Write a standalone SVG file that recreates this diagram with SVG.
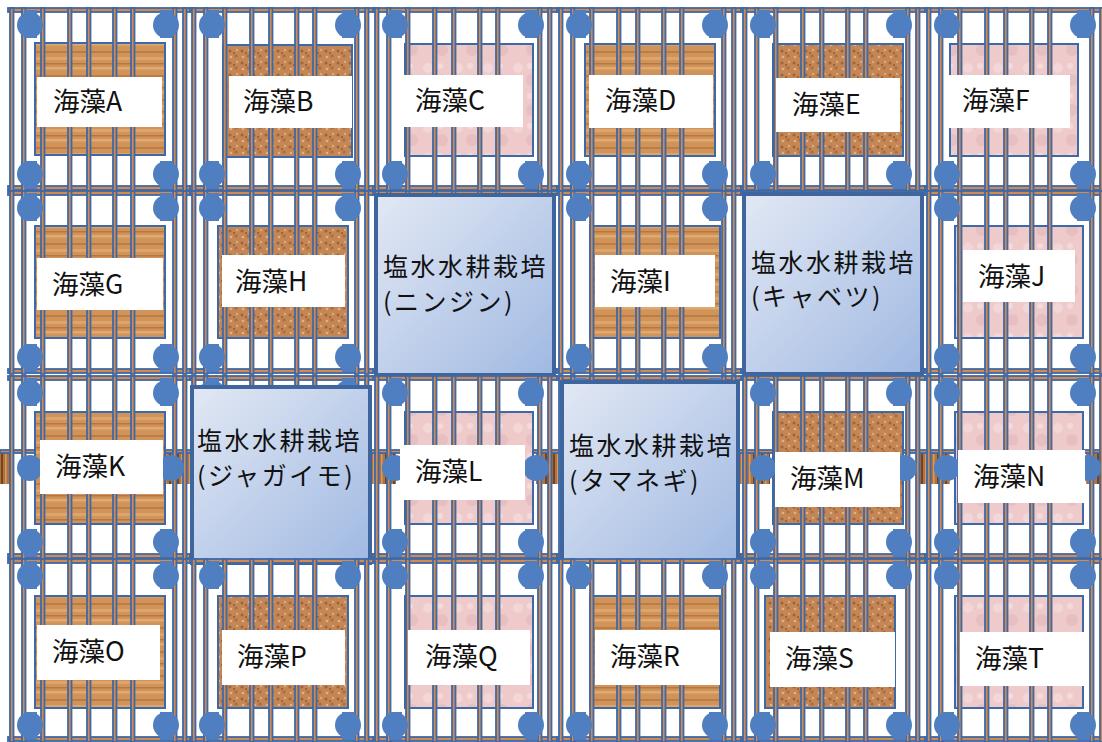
<svg xmlns="http://www.w3.org/2000/svg" xmlns:xlink="http://www.w3.org/1999/xlink" width="1102" height="742" viewBox="0 0 1102 742">
<style>
.bar{fill:#d48a4c;stroke:#3d69a9;stroke-width:1.8}
.post{fill:#4f7fc0}
.lbl{fill:#ffffff}
.t{font-family:"Noto Sans CJK JP","Noto Sans",sans-serif;font-size:26.5px;fill:#111}
.bt{font-family:"Noto Sans CJK JP","Noto Sans",sans-serif;font-size:25px;fill:#111;letter-spacing:2.5px}
.box{stroke:#3f659f;stroke-width:4;fill:url(#bg)}
.wood{fill:url(#woodP);stroke:#3d69a9;stroke-width:2}
.cork{fill:url(#corkP);stroke:#3d69a9;stroke-width:2}
.pink{fill:url(#pinkP);stroke:#3d69a9;stroke-width:2}
.conn{fill:url(#connP)}
</style>
<defs>
<linearGradient id="bg" x1="0" y1="0" x2="1" y2="1">
<stop offset="0" stop-color="#e2e8f4"/>
<stop offset="1" stop-color="#a0b9e2"/>
</linearGradient>
<pattern id="woodP" width="60" height="24" patternUnits="userSpaceOnUse">
<rect width="60" height="24" fill="#d0935a"/>
<rect y="3" width="60" height="2" fill="#bd7c42"/>
<rect y="9" width="60" height="3" fill="#dda56c"/>
<rect y="15" width="60" height="1.5" fill="#b8763e"/>
<rect y="19" width="60" height="2.5" fill="#dfaa72"/>
</pattern>
<pattern id="corkP" width="12" height="12" patternUnits="userSpaceOnUse">
<rect width="12" height="12" fill="#c38654"/>
<circle cx="2" cy="3" r="1.5" fill="#a0643a"/>
<circle cx="8" cy="8" r="1.6" fill="#a86c42"/>
<circle cx="9" cy="2" r="1.2" fill="#dcaa7c"/>
<circle cx="3" cy="9" r="1.3" fill="#e2b084"/>
<circle cx="6" cy="5" r="1" fill="#935830"/>
</pattern>
<pattern id="pinkP" width="30" height="30" patternUnits="userSpaceOnUse">
<rect width="30" height="30" fill="#eecacb"/>
<circle cx="8" cy="8" r="5" fill="#f3d6d7"/>
<circle cx="22" cy="20" r="6" fill="#e8bfc1"/>
<circle cx="20" cy="6" r="3" fill="#f4dadb"/>
</pattern>
<pattern id="connP" width="8" height="30" patternUnits="userSpaceOnUse">
<rect width="8" height="30" fill="#b0723e"/>
<rect x="1" width="2" height="30" fill="#74441e"/>
<rect x="5" width="1.5" height="30" fill="#d49a62"/>
</pattern>
<g id="cage">
<rect class="bar" x="0" y="0" width="184" height="4"/>
<rect class="bar" x="0" y="178" width="184" height="4"/>
<rect class="bar" x="2" y="0" width="3.5" height="183"/>
<rect class="bar" x="14" y="0" width="3.5" height="183"/>
<rect class="bar" x="33" y="0" width="3.5" height="183"/>
<rect class="bar" x="60" y="0" width="3.5" height="183"/>
<rect class="bar" x="79" y="0" width="3.5" height="183"/>
<rect class="bar" x="105" y="0" width="3.5" height="183"/>
<rect class="bar" x="123" y="0" width="3.5" height="183"/>
<rect class="bar" x="165" y="0" width="3.5" height="183"/>
<rect class="bar" x="175" y="0" width="3.5" height="183"/>
<rect class="post" x="16" y="2" width="13" height="28"/>
<rect class="post" x="152" y="2" width="13" height="28"/>
<rect class="post" x="16" y="153" width="13" height="28"/>
<rect class="post" x="152" y="153" width="13" height="28"/>
<circle class="post" cx="22" cy="17" r="13"/>
<circle class="post" cx="158" cy="17" r="13"/>
<circle class="post" cx="22" cy="166" r="13"/>
<circle class="post" cx="158" cy="166" r="13"/>
</g>
<g id="mid">
<circle class="post" cx="22" cy="92" r="13"/>
<circle class="post" cx="163" cy="92" r="13"/>
</g>
</defs>
<rect width="1102" height="742" fill="#ffffff"/>

<g id="connectors">
<rect class="conn" x="0" y="452" width="10" height="32"/>
<rect class="conn" x="166" y="452" width="28" height="32"/>
<rect class="conn" x="366" y="452" width="30" height="32"/>
<rect class="conn" x="536" y="452" width="26" height="32"/>
<rect class="conn" x="738" y="452" width="32" height="32"/>
<rect class="conn" x="918" y="452" width="32" height="32"/>
<rect class="conn" x="1086" y="452" width="16" height="32"/>
<rect class="bar" x="0" y="450" width="1102" height="3"/>
</g>

<g id="nodeA"><rect class="wood" x="35" y="43" width="130" height="112"/><use href="#cage" x="8" y="8"/><rect class="lbl" x="37" y="77" width="125" height="50"/><text class="t" x="53" y="111">海藻A</text></g>
<g id="nodeB"><rect class="cork" x="223" y="45" width="129" height="112"/><use href="#cage" x="190" y="8"/><rect class="lbl" x="229" y="76" width="123" height="52"/><text class="t" x="243" y="111">海藻B</text></g>
<g id="nodeC"><rect class="pink" x="405" y="44" width="128" height="112"/><use href="#cage" x="373" y="8"/><rect class="lbl" x="398" y="75" width="125" height="52"/><text class="t" x="415" y="110">海藻C</text></g>
<g id="nodeD"><rect class="wood" x="585" y="44" width="130" height="112"/><use href="#cage" x="557" y="8"/><rect class="lbl" x="589" y="75" width="124" height="53"/><text class="t" x="605" y="110">海藻D</text></g>
<g id="nodeE"><rect class="cork" x="773" y="44" width="130" height="112"/><use href="#cage" x="741" y="8"/><rect class="lbl" x="776" y="78" width="124" height="54"/><text class="t" x="792" y="114">海藻E</text></g>
<g id="nodeF"><rect class="pink" x="950" y="44" width="128" height="112"/><use href="#cage" x="925" y="8"/><rect class="lbl" x="947" y="75" width="123" height="53"/><text class="t" x="962" y="110">海藻F</text></g>

<g id="nodeG"><rect class="wood" x="35" y="226" width="130" height="112"/><use href="#cage" x="8" y="191"/><rect class="lbl" x="37" y="258" width="126" height="52"/><text class="t" x="52" y="294">海藻G</text></g>
<g id="nodeH"><rect class="cork" x="218" y="226" width="130" height="112"/><use href="#cage" x="190" y="191"/><rect class="lbl" x="222" y="255" width="123" height="52"/><text class="t" x="235" y="291">海藻H</text></g>
<g id="hydroCarrot"><use href="#cage" x="373" y="191"/><rect class="box" x="376" y="195" width="178" height="180"/><text class="bt" x="383" y="276">塩水水耕栽培</text><text class="bt" x="383" y="311">(ニンジン)</text></g>
<g id="nodeI"><rect class="wood" x="590" y="226" width="130" height="112"/><use href="#cage" x="557" y="191"/><rect class="lbl" x="595" y="255" width="120" height="52"/><text class="t" x="610" y="291">海藻I</text></g>
<g id="hydroCabbage"><use href="#cage" x="741" y="191"/><rect class="box" x="744" y="194" width="178" height="180"/><text class="bt" x="751" y="272">塩水水耕栽培</text><text class="bt" x="751" y="306">(キャベツ)</text></g>
<g id="nodeJ"><rect class="pink" x="955" y="226" width="128" height="112"/><use href="#cage" x="925" y="191"/><rect class="lbl" x="963" y="250" width="112" height="52"/><text class="t" x="978" y="286">海藻J</text></g>

<g id="nodeK"><rect class="wood" x="35" y="412" width="130" height="112"/><use href="#cage" x="8" y="376"/><use href="#mid" x="8" y="376"/><rect class="lbl" x="40" y="440" width="123" height="54"/><text class="t" x="55" y="476">海藻K</text></g>
<g id="hydroPotato"><use href="#cage" x="190" y="376"/><rect class="box" x="192" y="387" width="178" height="176"/><text class="bt" x="197" y="450">塩水水耕栽培</text><text class="bt" x="197" y="485">(ジャガイモ)</text></g>
<g id="nodeL"><rect class="pink" x="405" y="412" width="128" height="112"/><use href="#cage" x="373" y="376"/><use href="#mid" x="373" y="376"/><rect class="lbl" x="400" y="445" width="125" height="55"/><text class="t" x="415" y="481">海藻L</text></g>
<g id="hydroOnion"><use href="#cage" x="557" y="376"/><rect class="box" x="562" y="382" width="176" height="180"/><text class="bt" x="569" y="455">塩水水耕栽培</text><text class="bt" x="569" y="490">(タマネギ)</text></g>
<g id="nodeM"><rect class="cork" x="773" y="412" width="130" height="112"/><use href="#cage" x="741" y="376"/><use href="#mid" x="741" y="376"/><rect class="lbl" x="775" y="452" width="125" height="55"/><text class="t" x="790" y="488">海藻M</text></g>
<g id="nodeN"><rect class="pink" x="955" y="412" width="128" height="112"/><use href="#cage" x="925" y="376"/><use href="#mid" x="925" y="376"/><rect class="lbl" x="958" y="450" width="127" height="53"/><text class="t" x="973" y="486">海藻N</text></g>

<g id="nodeO"><rect class="wood" x="35" y="596" width="130" height="112"/><use href="#cage" x="8" y="559"/><rect class="lbl" x="37" y="625" width="123" height="55"/><text class="t" x="52" y="661">海藻O</text></g>
<g id="nodeP"><rect class="cork" x="218" y="596" width="130" height="112"/><use href="#cage" x="190" y="559"/><rect class="lbl" x="222" y="630" width="123" height="55"/><text class="t" x="237" y="666">海藻P</text></g>
<g id="nodeQ"><rect class="pink" x="405" y="596" width="128" height="112"/><use href="#cage" x="373" y="559"/><rect class="lbl" x="408" y="630" width="122" height="55"/><text class="t" x="425" y="666">海藻Q</text></g>
<g id="nodeR"><rect class="wood" x="590" y="596" width="130" height="112"/><use href="#cage" x="557" y="559"/><rect class="lbl" x="595" y="630" width="125" height="55"/><text class="t" x="610" y="666">海藻R</text></g>
<g id="nodeS"><rect class="cork" x="765" y="596" width="130" height="112"/><use href="#cage" x="741" y="559"/><rect class="lbl" x="770" y="632" width="125" height="55"/><text class="t" x="785" y="668">海藻S</text></g>
<g id="nodeT"><rect class="pink" x="955" y="596" width="128" height="112"/><use href="#cage" x="925" y="559"/><rect class="lbl" x="960" y="632" width="125" height="54"/><text class="t" x="975" y="668">海藻T</text></g>
</svg>
